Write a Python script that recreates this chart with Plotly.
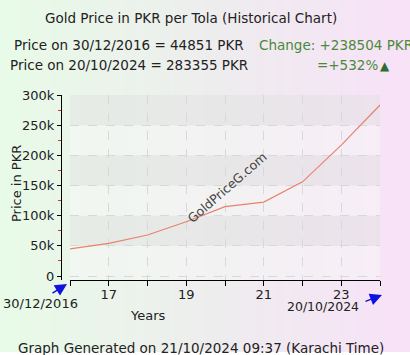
import plotly.graph_objects as go

# ---- data ----
years = [16, 17, 18, 19, 20, 21, 22, 23, 24]
prices = [44851, 54000, 68000, 90000, 115000, 122500, 156000, 217000, 283355]
x_tickvals = [17, 19, 21, 23]
x_ticktext = ["17", "19", "21", "23"]
y_tickvals = [0, 50000, 100000, 150000, 200000, 250000, 300000]
y_ticktext = ["0", "50k", "100k", "150k", "200k", "250k", "300k"]

W, H = 410, 355
ML, MR, MT, MB = 61, 30, 95, 75
PW, PH = W - ML - MR, H - MT - MB


def px(x):
    return (x - ML) / PW


def py(y):
    return (H - MB - y) / PH


FONT = "DejaVu Sans"
FS = 13.5

fig = go.Figure()
fig.add_trace(go.Scatter(x=years, y=prices, mode="lines",
                         line=dict(color="#e8826c", width=1.2),
                         hoverinfo="skip", showlegend=False))

shapes = []
# background gradient green -> pink
n = 82
c0 = (232, 251, 232)
cm = (238, 238, 238)
c1 = (248, 226, 248)
for i in range(n):
    t = i / (n - 1)
    if t < 0.5:
        u = t / 0.5
        c = tuple(int(c0[k] + (cm[k] - c0[k]) * u) for k in range(3))
    else:
        u = (t - 0.5) / 0.5
        c = tuple(int(cm[k] + (c1[k] - cm[k]) * u) for k in range(3))
    x0 = i * W / n
    x1 = (i + 1) * W / n + 0.6
    shapes.append(dict(type="rect", xref="paper", yref="paper",
                       x0=px(x0), x1=px(x1), y0=py(352), y1=py(0),
                       line=dict(width=0), fillcolor="rgb(%d,%d,%d)" % c,
                       layer="below"))
# plot bands
for j in range(6):
    y0 = j * 50000
    y1 = y0 + 50000
    dark = (j % 2 == 1)
    shapes.append(dict(type="rect", xref="x domain", yref="y",
                       x0=0, x1=1, y0=y0, y1=y1, line=dict(width=0),
                       fillcolor="rgba(226,226,226,0.5)" if dark else "rgba(247,247,247,0.5)",
                       layer="below"))
shapes.append(dict(type="rect", xref="x domain", yref="y", x0=0, x1=1,
                   y0=-6630, y1=0, line=dict(width=0),
                   fillcolor="rgba(247,247,247,0.5)", layer="below"))

ann = []


def text(x, y, s, size=FS, color="#222", xanchor="center", angle=0):
    ann.append(dict(x=px(x), y=py(y), xref="paper", yref="paper", text=s,
                    showarrow=False, xanchor=xanchor, yanchor="middle",
                    textangle=angle,
                    font=dict(family=FONT, size=size, color=color)))


text(191, 18, "Gold Price in PKR per Tola (Historical Chart)")
text(12, 45, "Price on 30/12/2016 = 44851 PKR", xanchor="left")
text(8, 65, "Price on 20/10/2024 = 283355 PKR", xanchor="left")
text(257, 45, "Change: +238504 PKR", color="#4a8a3a", xanchor="left")
text(315, 65, "=+532%", color="#4a8a3a", xanchor="left")
text(385, 66, "▲", color="#2e6e2e", size=12)
text(16, 184, "Price in PKR", size=13, angle=-90)
text(148, 315, "Years", size=13)
text(40, 303, "30/12/2016", size=13)
text(323, 306, "20/10/2024", size=12.5)
text(201, 348, "Graph Generated on 21/10/2024 09:37 (Karachi Time)")
text(227, 187, "GoldPriceG.com", size=12.5, color="#444", angle=-41)

# arrows
for (hx, hy, tx, ty) in [(67, 284, 51, 294), (382, 295, 364, 302)]:
    ann.append(dict(x=px(hx), y=py(hy), xref="paper", yref="paper",
                    ax=tx - hx, ay=ty - hy, axref="pixel", ayref="pixel",
                    showarrow=True, arrowhead=2, arrowsize=1.6, arrowwidth=1.5,
                    arrowcolor="#1010e0", text=""))

fig.update_layout(
    width=W, height=H,
    margin=dict(l=ML, r=MR, t=MT, b=MB, pad=0),
    paper_bgcolor="white",
    plot_bgcolor="rgba(0,0,0,0)",
    font=dict(family=FONT, size=13, color="#222"),
    showlegend=False,
    shapes=shapes,
    annotations=ann,
    xaxis=dict(domain=[9 / PW, 1], range=[16, 24], anchor="y",
               tickmode="array", tickvals=x_tickvals, ticktext=x_ticktext,
               ticks="outside", ticklen=5, tickcolor="black",
               ticklabelstandoff=-3,
               showline=True, linecolor="black", linewidth=1,
               showgrid=True, gridcolor="#d8d8d8", griddash="dash", gridwidth=1,
               zeroline=False,
               minor=dict(dtick=1, tick0=16, ticks="outside", ticklen=5,
                          tickcolor="black", showgrid=True,
                          gridcolor="#d8d8d8", griddash="dash"),
               tickfont=dict(size=13, color="#222")),
    yaxis=dict(range=[-6630, 300000], anchor="free", position=0,
               tickmode="array", tickvals=y_tickvals, ticktext=y_ticktext,
               ticks="outside", ticklen=4, tickcolor="black",
               showline=True, linecolor="black", linewidth=1,
               showgrid=True, gridcolor="#d8d8d8", griddash="dash", gridwidth=1,
               zeroline=False,
               minor=dict(dtick=25000, tick0=0, ticks="outside", ticklen=3,
                          tickcolor="#e03030", showgrid=False),
               tickfont=dict(size=13, color="#222")),
)

fig.write_html("out.html", config={"displayModeBar": False},
               post_script="document.body.style.margin='0';document.body.style.overflow='hidden';")
